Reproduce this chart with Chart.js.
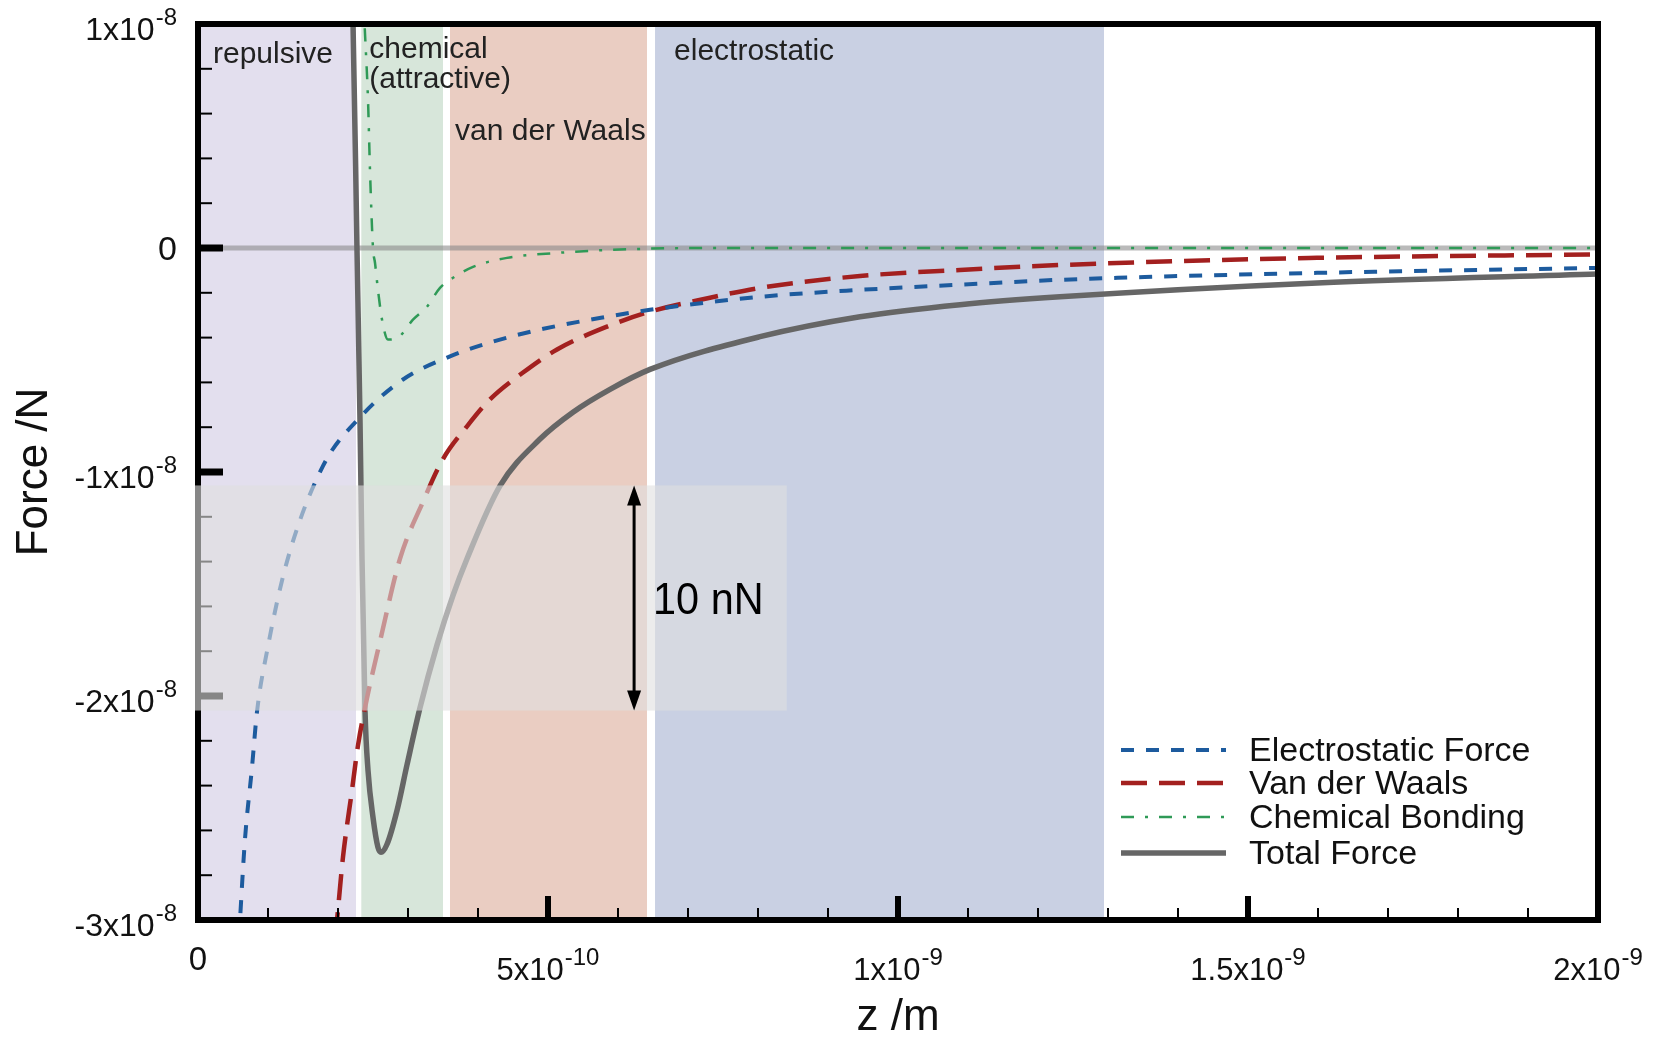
<!DOCTYPE html>
<html>
<head>
<meta charset="utf-8">
<title>Force vs distance</title>
<script src="https://cdn.jsdelivr.net/npm/chart.js@4.4.1/dist/chart.umd.min.js"></script>
<style>
  html, body { margin: 0; padding: 0; background: #fff; }
  #wrap { width: 1663px; height: 1038px; position: relative; }
</style>
</head>
<body>
<div id="wrap"><canvas id="forceChart"></canvas></div>
<script>
// z in nm (1e-9 m), force in units of 1e-8 N
const zElectro = [0.0585, 0.060, 0.0671, 0.0771, 0.0843, 0.0986, 0.1271, 0.1786, 0.2314, 0.2929, 0.360, 0.4171, 0.4886, 0.5843, 0.6457, 0.8029, 0.9457, 1.0886, 1.2314, 1.5986, 2.0];
const fElectro = [-3.08, -3.0, -2.64, -2.32, -2.07, -1.80, -1.40, -0.973, -0.756, -0.587, -0.484, -0.422, -0.364, -0.307, -0.276, -0.218, -0.187, -0.164, -0.142, -0.111, -0.089];

const zVdw = [0.1960, 0.1986, 0.2071, 0.2200, 0.2286, 0.2414, 0.2600, 0.2886, 0.3214, 0.3500, 0.3843, 0.4171, 0.4643, 0.5129, 0.5843, 0.6457, 0.7314, 0.8029, 0.9457, 1.0886, 1.2314, 1.5986, 2.0];
const fVdw = [-3.08, -3.0, -2.72, -2.42, -2.22, -2.01, -1.756, -1.387, -1.133, -0.942, -0.796, -0.676, -0.556, -0.453, -0.351, -0.284, -0.222, -0.178, -0.125, -0.098, -0.076, -0.044, -0.029];

const zChem = [0.2357, 0.2386, 0.2429, 0.2457, 0.2500, 0.2529, 0.2571, 0.2629, 0.2714, 0.2857, 0.3071, 0.3271, 0.3457, 0.3643, 0.3929, 0.4414, 0.5129, 0.5843, 0.7171, 1.0, 1.5, 2.0];
const fChem = [1.15, 0.956, 0.658, 0.347, 0, -0.067, -0.187, -0.32, -0.409, -0.40, -0.32, -0.262, -0.178, -0.133, -0.084, -0.044, -0.022, -0.009, 0, 0, 0, 0];

const zTotal = [0.2186, 0.2214, 0.2271, 0.2314, 0.2343, 0.2386, 0.2429, 0.2500, 0.2571, 0.2614, 0.2700, 0.2843, 0.2986, 0.3171, 0.3414, 0.3643, 0.3843, 0.4314, 0.4886, 0.5357, 0.5886, 0.6457, 0.8029, 0.9457, 1.0886, 1.2314, 1.5986, 2.0];
const fTotal = [1.15, 1.01, 0, -0.764, -1.387, -2.067, -2.333, -2.542, -2.676, -2.698, -2.662, -2.511, -2.307, -2.053, -1.773, -1.551, -1.387, -1.062, -0.853, -0.733, -0.631, -0.542, -0.396, -0.307, -0.253, -0.218, -0.156, -0.116];

const seriesNames = ['Electrostatic Force', 'Van der Waals', 'Chemical Bonding', 'Total Force'];

// interaction regions (nm)
const regionNames = [['repulsive'], ['chemical', '(attractive)'], ['van der Waals'], ['electrostatic']];
const regionFrom = [0, 0.2333, 0.3600, 0.6529];
const regionTo = [0.2257, 0.3500, 0.6414, 1.2943];

// ticks
const xTickValues = [0, 0.5, 1, 1.5, 2];
const xTickBase = ['0', '5x10', '1x10', '1.5x10', '2x10'];
const xTickExp = ['', '-10', '-9', '-9', '-9'];
const yTickValues = [1, 0, -1, -2, -3];
const yTickBase = ['1x10', '0', '-1x10', '-2x10', '-3x10'];
const yTickExp = ['-8', '', '-8', '-8', '-8'];

// 10 nN scale bar
const barTop = -1.06;
const barBottom = -2.065;
const barZ = 0.623;
const barBoxRight = 0.841;

const FONT = '"Liberation Sans", Arial, Helvetica, sans-serif';
const regionColors = ['#e3dfee', '#d7e6da', '#eacdc2', '#c9d0e3'];
const lineStyles = [
  { color: '#1d5b9e', width: 4, dash: [13, 12] },
  { color: '#a3201f', width: 4.5, dash: [26, 12] },
  { color: '#2f9a57', width: 2.5, dash: [13, 11, 3, 11] },
  { color: '#666666', width: 5.5, dash: [] }
];

const toPoints = (zs, fs) => zs.map((z, i) => ({ x: z, y: fs[i] }));
const seriesData = [
  toPoints(zElectro, fElectro),
  toPoints(zVdw, fVdw),
  toPoints(zChem, fChem),
  toPoints(zTotal, fTotal)
];

function drawSci(ctx, base, exp, x, y, align, baseSize, expSize, rise) {
  ctx.font = baseSize + 'px ' + FONT;
  const wb = ctx.measureText(base).width;
  ctx.font = expSize + 'px ' + FONT;
  const we = exp ? ctx.measureText(exp).width + 1 : 0;
  const total = wb + we;
  const left = align === 'right' ? x - total : align === 'center' ? x - total / 2 : x;
  ctx.textAlign = 'left';
  ctx.textBaseline = 'alphabetic';
  ctx.font = baseSize + 'px ' + FONT;
  ctx.fillText(base, left, y);
  if (exp) {
    ctx.font = expSize + 'px ' + FONT;
    ctx.fillText(exp, left + wb + 1, y - rise);
  }
}

const decorations = {
  id: 'decorations',
  beforeDatasetsDraw(chart) {
    const { ctx, chartArea: a, scales: { x, y } } = chart;
    ctx.save();
    // shaded regions
    regionFrom.forEach((z0, i) => {
      const x0 = x.getPixelForValue(z0);
      const x1 = x.getPixelForValue(regionTo[i]);
      ctx.fillStyle = regionColors[i];
      ctx.fillRect(x0, a.top, x1 - x0, a.bottom - a.top);
    });
    // zero line
    const y0 = y.getPixelForValue(0);
    ctx.strokeStyle = 'rgba(133,133,133,0.57)';
    ctx.lineWidth = 5;
    ctx.beginPath();
    ctx.moveTo(a.left, y0);
    ctx.lineTo(a.right, y0);
    ctx.stroke();
    // region labels
    const offsets = [[15, 63], [8, 58], [5, 140], [19, 60]];
    ctx.fillStyle = '#222';
    ctx.font = '30px ' + FONT;
    ctx.textAlign = 'left';
    ctx.textBaseline = 'alphabetic';
    regionNames.forEach((lines, i) => {
      const lx = x.getPixelForValue(regionFrom[i]) + offsets[i][0];
      lines.forEach((t, j) => ctx.fillText(t, lx, offsets[i][1] + j * 30));
    });
    ctx.restore();
  },
  afterDatasetsDraw(chart) {
    const { ctx, chartArea: a, scales: { x, y } } = chart;
    ctx.save();

    // ticks on left and bottom, pointing inward
    ctx.strokeStyle = '#000';
    for (let v = -3; v <= 1.0001; v += 0.2) {
      const r = Math.round(v * 10) / 10;
      if (r === 1 || r === -3) continue;
      const py = y.getPixelForValue(r);
      const major = Number.isInteger(r);
      ctx.lineWidth = major ? 7 : 2;
      ctx.beginPath();
      ctx.moveTo(a.left, py);
      ctx.lineTo(a.left + (major ? 25 : 14), py);
      ctx.stroke();
    }
    for (let v = 0.1; v < 2; v += 0.1) {
      const r = Math.round(v * 10) / 10;
      const ppx = x.getPixelForValue(r);
      const major = Math.abs(r * 2 - Math.round(r * 2)) < 1e-9;
      ctx.lineWidth = major ? 6 : 2;
      ctx.beginPath();
      ctx.moveTo(ppx, a.bottom);
      ctx.lineTo(ppx, a.bottom - (major ? 24 : 12));
      ctx.stroke();
    }

    // frame
    ctx.lineWidth = 6;
    ctx.strokeRect(a.left, a.top, a.right - a.left, a.bottom - a.top);

    // translucent box behind the scale bar
    const bx0 = a.left - 3;
    const bx1 = x.getPixelForValue(barBoxRight);
    const by0 = y.getPixelForValue(barTop);
    const by1 = y.getPixelForValue(barBottom);
    ctx.fillStyle = 'rgba(224,224,224,0.6)';
    ctx.fillRect(bx0, by0, bx1 - bx0, by1 - by0);

    // double arrow
    const ax = x.getPixelForValue(barZ);
    ctx.strokeStyle = '#000';
    ctx.fillStyle = '#000';
    ctx.lineWidth = 3;
    ctx.beginPath();
    ctx.moveTo(ax, by0 + 16);
    ctx.lineTo(ax, by1 - 16);
    ctx.stroke();
    ctx.beginPath();
    ctx.moveTo(ax, by0);
    ctx.lineTo(ax - 7, by0 + 20);
    ctx.lineTo(ax + 7, by0 + 20);
    ctx.closePath();
    ctx.fill();
    ctx.beginPath();
    ctx.moveTo(ax, by1);
    ctx.lineTo(ax - 7, by1 - 20);
    ctx.lineTo(ax + 7, by1 - 20);
    ctx.closePath();
    ctx.fill();

    ctx.save();
    ctx.translate(ax + 19, (by0 + by1) / 2 + 16);
    ctx.scale(0.92, 1);
    ctx.font = '45px ' + FONT;
    ctx.textAlign = 'left';
    ctx.textBaseline = 'alphabetic';
    ctx.fillText('10 nN', 0, 0);
    ctx.restore();

    ctx.restore();
  },
  afterDraw(chart) {
    const { ctx, chartArea: a, scales: { x, y } } = chart;
    ctx.save();
    ctx.fillStyle = '#111';

    // y tick labels
    yTickValues.forEach((v, i) => {
      const py = y.getPixelForValue(v);
      if (yTickExp[i]) {
        drawSci(ctx, yTickBase[i], yTickExp[i], a.left - 21, py + 16, 'right', 32, 24, 15);
      } else {
        drawSci(ctx, yTickBase[i], '', a.left - 21, py + 12, 'right', 34, 24, 0);
      }
    });
    // x tick labels
    xTickValues.forEach((v, i) => {
      const ppx = x.getPixelForValue(v);
      if (xTickExp[i]) {
        drawSci(ctx, xTickBase[i], xTickExp[i], ppx, 980, 'center', 31, 24, 15);
      } else {
        drawSci(ctx, xTickBase[i], '', ppx, 970, 'center', 33, 24, 0);
      }
    });

    // axis titles
    ctx.font = '44px ' + FONT;
    ctx.textAlign = 'center';
    ctx.textBaseline = 'alphabetic';
    ctx.fillText('z /m', (a.left + a.right) / 2, 1030);
    ctx.save();
    ctx.translate(35, 472);
    ctx.rotate(-Math.PI / 2);
    ctx.textBaseline = 'middle';
    ctx.fillText('Force /N', 0, 0);
    ctx.restore();

    // legend
    const lx0 = 1121, lx1 = 1226, tx = 1249;
    const rows = [750, 783, 817, 853];
    seriesNames.forEach((name, i) => {
      const s = lineStyles[i];
      ctx.strokeStyle = s.color;
      ctx.lineWidth = s.width;
      ctx.setLineDash(s.dash);
      ctx.beginPath();
      ctx.moveTo(lx0, rows[i]);
      ctx.lineTo(lx1, rows[i]);
      ctx.stroke();
      ctx.setLineDash([]);
      ctx.fillStyle = '#111';
      ctx.font = '34px ' + FONT;
      ctx.textAlign = 'left';
      ctx.textBaseline = 'alphabetic';
      ctx.fillText(name, tx, rows[i] + 11);
    });
    ctx.restore();
  }
};

new Chart(document.getElementById('forceChart'), {
  type: 'line',
  data: {
    datasets: seriesNames.map((name, i) => ({
      label: name,
      data: seriesData[i],
      borderColor: lineStyles[i].color,
      borderWidth: lineStyles[i].width,
      borderDash: lineStyles[i].dash,
      pointRadius: 0,
      fill: false,
      cubicInterpolationMode: 'monotone'
    }))
  },
  options: {
    responsive: true,
    maintainAspectRatio: false,
    animation: false,
    devicePixelRatio: 1,
    layout: { padding: { left: 198, top: 24, right: 65, bottom: 118 } },
    plugins: { legend: { display: false }, tooltip: { enabled: false } },
    scales: {
      x: { type: 'linear', min: 0, max: 2, display: false },
      y: { type: 'linear', min: -3, max: 1, display: false }
    }
  },
  plugins: [decorations]
});
</script>
</body>
</html>
